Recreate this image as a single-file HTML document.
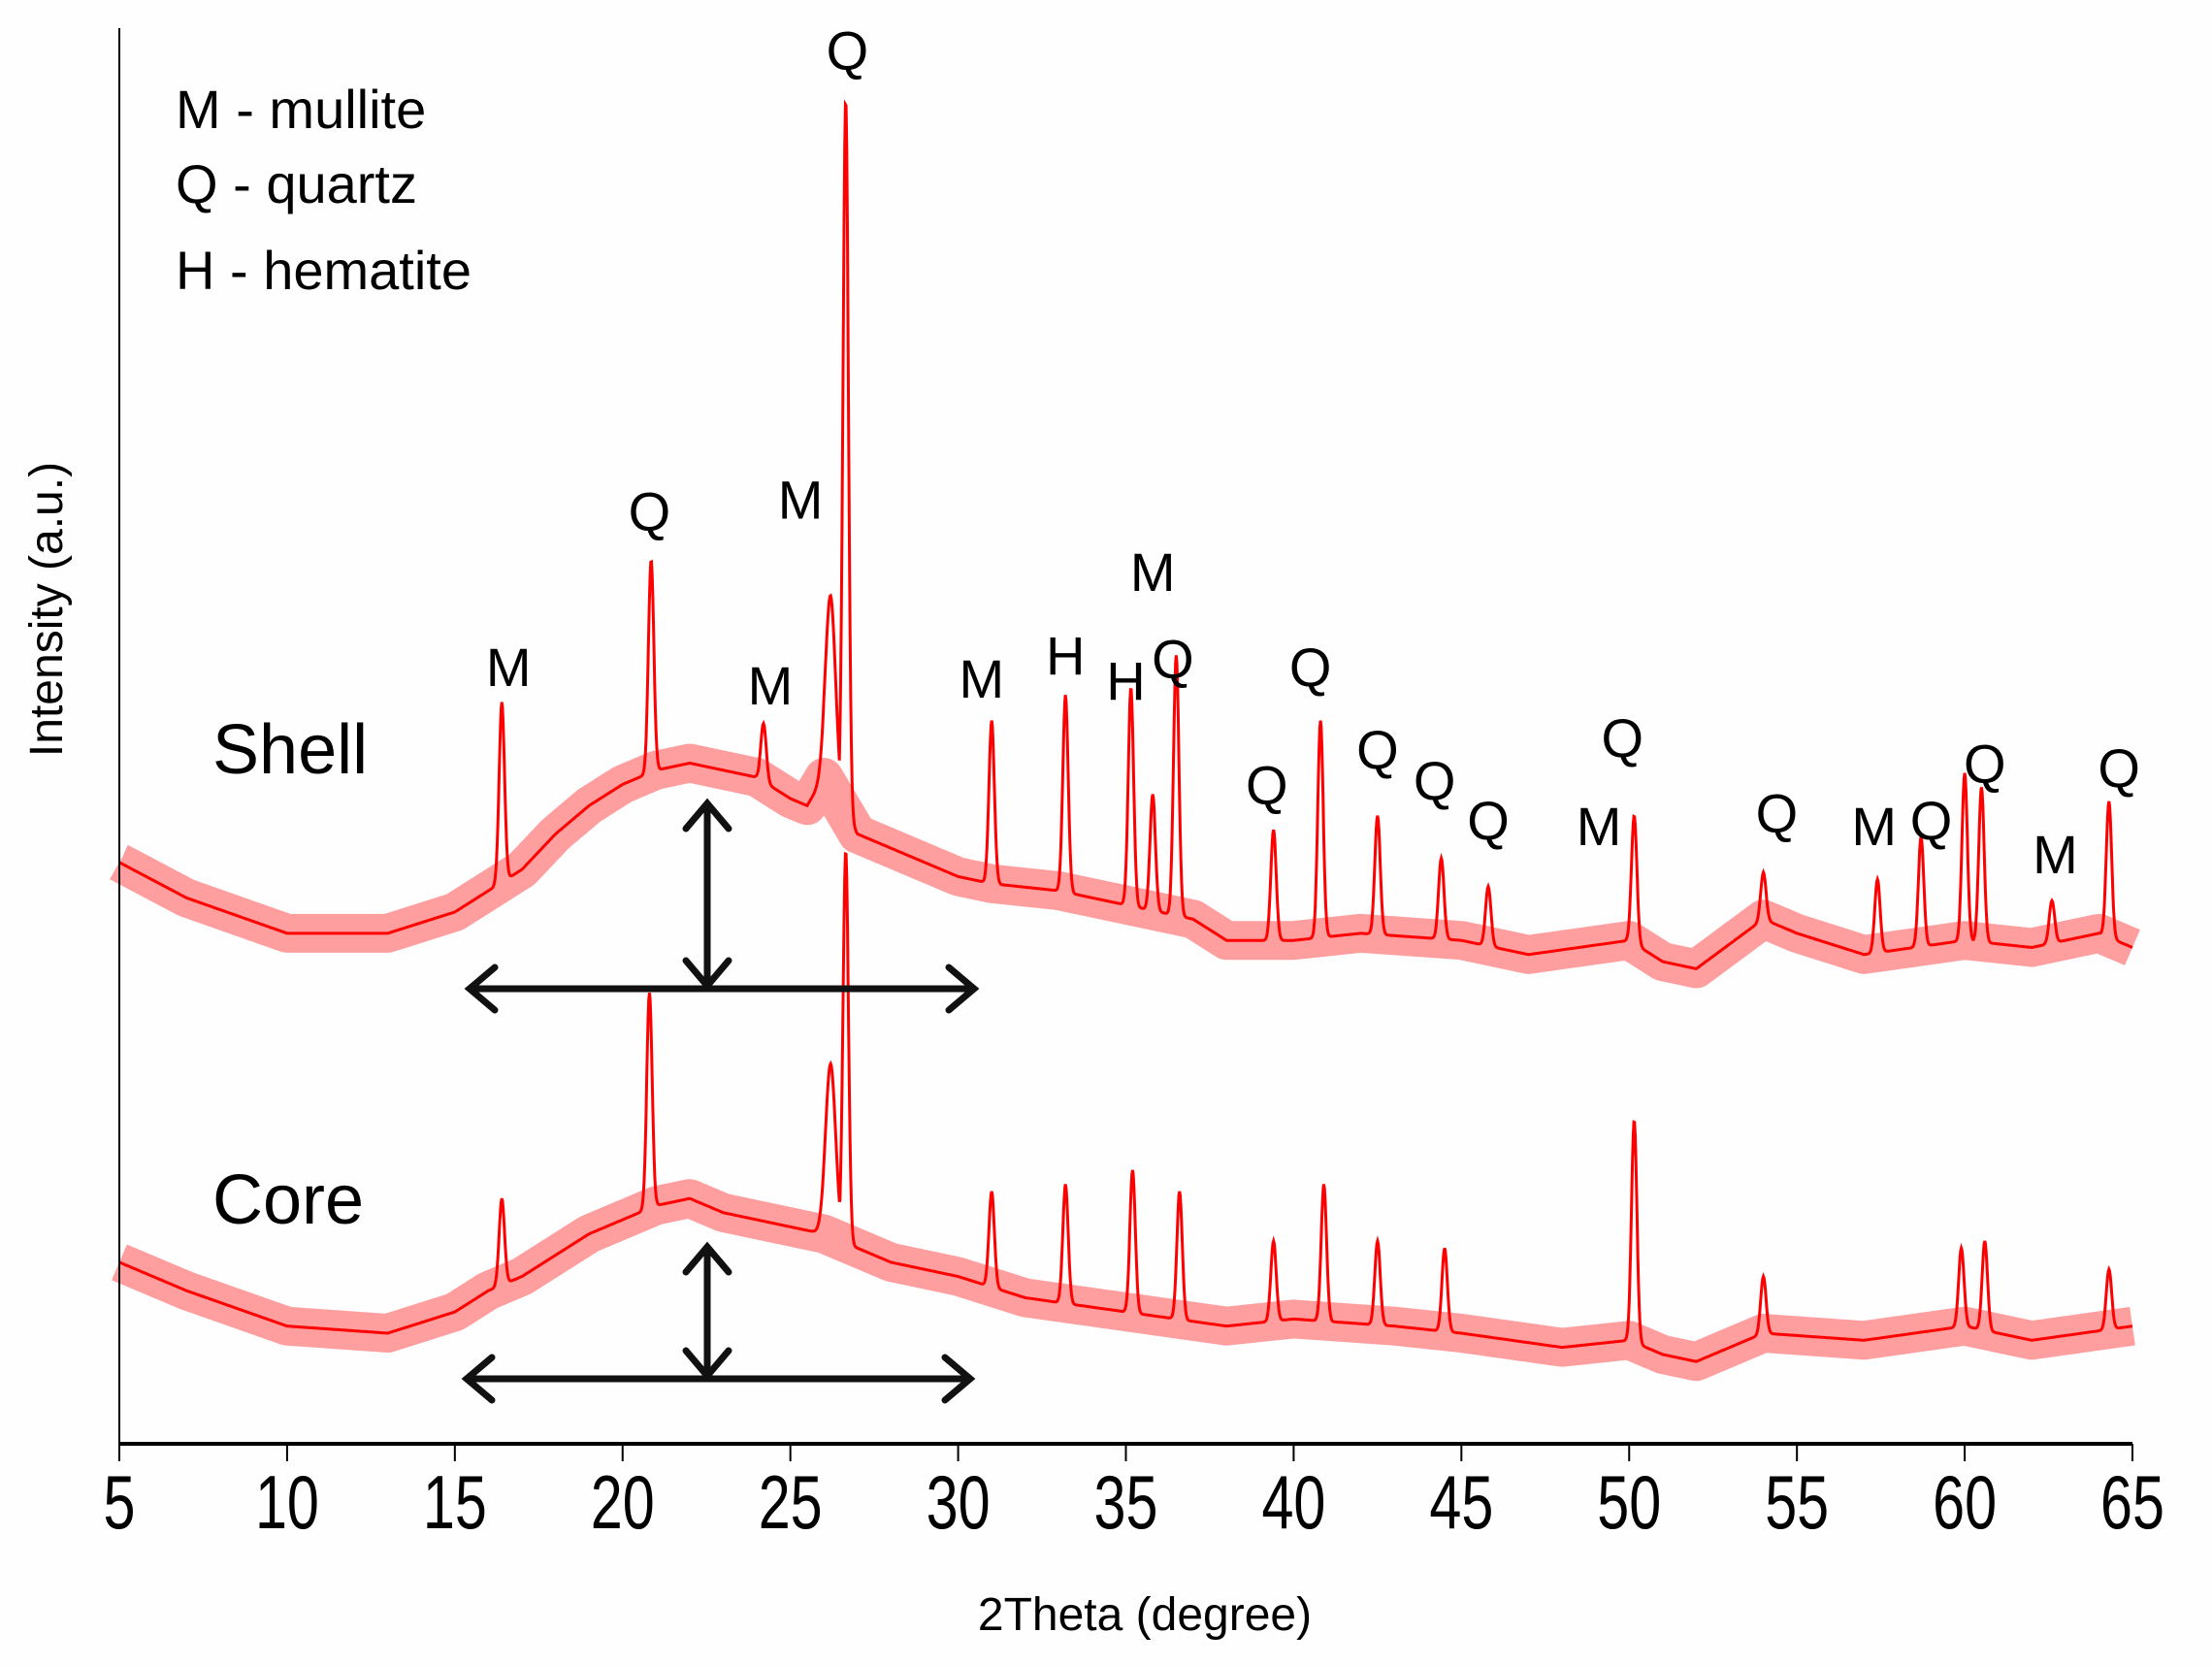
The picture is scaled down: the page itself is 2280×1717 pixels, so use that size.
<!DOCTYPE html>
<html><head><meta charset="utf-8"><style>
html,body{margin:0;padding:0;background:#fff}
svg{display:block}
text{font-family:"Liberation Sans",sans-serif;fill:#000}
</style></head><body>
<svg id="chart" width="2280" height="1717" viewBox="0 0 2280 1717" xmlns="http://www.w3.org/2000/svg">
<rect width="2280" height="1717" fill="#fefefe"/>
<g id="series"></g>
<g id="axes"></g>
<g id="labels"></g>
</svg>
<script>
// ---- data (2theta in degrees, intensity in a.u.) ----
const xTicks = [5,10,15,20,25,30,35,40,45,50,55,60,65];
const shellBaseX = [5,7,10,13,15,16,17,18,19,20,21,22,23,24,25,25.5,26,27,28,29,30,31,33,35,37,38,40,42,45,47,50,51,52,54,55,57,60,62,64,65];
const shellBaseI = [410,385,360,360,375,390,405,430,450,465,475,480,475,470,455,450,470,430,420,410,400,395,390,380,370,355,355,360,355,345,355,340,335,370,360,345,355,350,360,350];
const shellPeakX = [16.4,20.85,24.2,26.2,26.65,31.0,33.2,35.15,35.8,36.5,39.4,40.8,42.5,44.4,45.8,50.15,54.0,57.4,58.7,60.0,60.5,62.6,64.3];
const shellPeakI = [523,623,508,598,948,510,528,533,458,556,433,510,443,413,393,443,403,398,428,473,463,383,453];
const coreBaseX = [5,7,10,13,15,16,17,18,19,20,21,22,23,24,25,26,27,28,29,30,32,35,38,40,43,45,48,50,51,52,54,57,60,62,65];
const coreBaseI = [128,108,83,78,93,108,118,133,148,158,168,173,163,158,153,148,138,128,123,118,103,93,83,88,83,78,68,73,63,58,78,73,83,73,83];
const corePeakX = [16.4,20.8,26.2,26.65,31.0,33.2,35.2,36.6,39.4,40.9,42.5,44.5,50.15,54.0,59.9,60.6,64.3];
const corePeakI = [173,318,268,418,178,183,193,178,143,183,143,138,228,118,138,143,123];
const markerText = ["Q","M","Q","M","M","M","H","H","M","Q","Q","Q","Q","Q","Q","M","Q","Q","M","Q","Q","M","Q"];
const markerX = [26.7,16.6,20.8,24.4,25.3,30.7,33.2,35.0,35.8,36.4,40.5,39.2,42.5,44.2,45.8,49.1,49.8,54.4,57.3,59.0,60.6,62.7,64.6];
const markerI = [983,548,658,535,666,540,556,538,615,554,548,465,490,468,440,436,498,445,436,440,480,416,477];

// ---- scales ----
const X0=123, X1=2198, YB=1488, K=1.4615;
const xs = v => X0 + (v-5)/(60)*(X1-X0);
const ys = v => YB - v*K;
const NS="http://www.w3.org/2000/svg";
function mk(tag, attrs, parent){const e=document.createElementNS(NS,tag);for(const k in attrs)e.setAttribute(k,attrs[k]);parent.appendChild(e);return e;}
function interp(bx,bi,x){if(x<=bx[0])return bi[0];for(let i=1;i<bx.length;i++){if(x<=bx[i]){const t=(x-bx[i-1])/(bx[i]-bx[i-1]);return bi[i-1]+t*(bi[i]-bi[i-1]);}}return bi[bi.length-1];}
function profile(bx,bi,px,pi,x){
  const b=interp(bx,bi,x);let v=b;
  for(let j=0;j<px.length;j++){const h=pi[j]-interp(bx,bi,px[j]);const s=px[j]>26&&px[j]<26.5?0.15:0.08;const w=Math.exp(-Math.pow((x-px[j])/s,2)/2)*h;if(w>0)v=Math.max(v,b+w);}
  return v;
}
function drawSeries(name,bx,bi,px,pi){
  const g=document.getElementById('series');
  let d="",db="";
  for(let x=5;x<=65.0001;x+=0.02){
    d+=(d?"L":"M")+xs(x).toFixed(1)+","+ys(profile(bx,bi,px,pi,x)).toFixed(1);
    db+=(db?"L":"M")+xs(x).toFixed(1)+","+ys(interp(bx,bi,x)).toFixed(1);
  }
  const band=mk('path',{d:db,fill:'none',stroke:'#ff2a2a','stroke-width':40,'stroke-opacity':0.45,'stroke-linejoin':'round'},g);
  
  
  const line=mk('path',{d:d,fill:'none',stroke:'#ff0000','stroke-width':3},g);
  
  
}
drawSeries('shell',shellBaseX,shellBaseI,shellPeakX,shellPeakI);
drawSeries('core',coreBaseX,coreBaseI,corePeakX,corePeakI);

// axes
const ax=document.getElementById('axes');
const yl=mk('line',{x1:X0,y1:29,x2:X0,y2:YB,stroke:'#000','stroke-width':2},ax);


const xl=mk('line',{x1:X0,y1:YB,x2:X1,y2:YB,stroke:'#000','stroke-width':4},ax);


xTicks.forEach(t=>{
  const tk=mk('line',{x1:xs(t),y1:YB,x2:xs(t),y2:YB+18,stroke:'#000','stroke-width':2},ax);
  
  
  const tx=mk('text',{x:0,y:0,'text-anchor':'middle','font-size':78,transform:`translate(${xs(t)},${1575}) scale(0.76,1)`},ax);
  tx.textContent=t;
  
  
});

// peak markers
const lg=document.getElementById('labels');
markerText.forEach((m,i)=>{
  const t=mk('text',{x:xs(markerX[i]),y:ys(markerI[i])+20,'text-anchor':'middle','font-size':56},lg);
  t.textContent=m;
  
  
});

// arrows
function arrow(name,x1,y1,x2,y2){
  const l=mk('line',{x1:x1,y1:y1,x2:x2,y2:y2,stroke:'#111','stroke-width':7},lg);
  
  
  const ah=(x,y,dx,dy)=>{const p=mk('path',{d:`M${x-dx*26-dy*22},${y-dy*26-dx*22} L${x},${y} L${x-dx*26+dy*22},${y-dy*26+dx*22}`,fill:'none',stroke:'#111','stroke-width':7,'stroke-linecap':'round'},lg);};
  const L=Math.hypot(x2-x1,y2-y1),dx=(x2-x1)/L,dy=(y2-y1)/L;
  ah(x2,y2,dx,dy);ah(x1,y1,-dx,-dy);
}
arrow('shell-horizontal-arrow',484,1019,1004,1019);
arrow('shell-vertical-arrow',729,828,729,1016);
arrow('core-horizontal-arrow',481,1421,1000,1421);
arrow('core-vertical-arrow',729,1285,729,1418);
</script>
<text x="181" y="132" font-size="56">M - mullite</text>
<text x="181" y="209" font-size="56">Q - quartz</text>
<text x="181" y="298" font-size="56">H - hematite</text>
<text x="219" y="797" font-size="72">Shell</text>
<text x="219" y="1261" font-size="72">Core</text>
<text x="1180" y="1680" font-size="48" text-anchor="middle">2Theta (degree)</text>
<text x="0" y="0" font-size="48" text-anchor="middle" transform="translate(64,628) rotate(-90)">Intensity (a.u.)</text>
<script>
const svg=document.getElementById('chart');
document.querySelectorAll('body > text').forEach(t=>{const n=document.createElementNS("http://www.w3.org/2000/svg","text");for(const a of t.attributes)n.setAttribute(a.name,a.value);n.textContent=t.textContent;svg.appendChild(n);t.remove();});
</script>
</body></html>
